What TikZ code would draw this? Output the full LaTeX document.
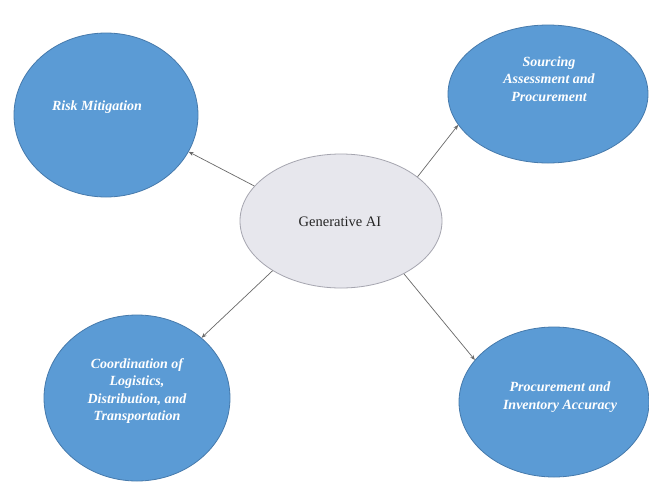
\documentclass[tikz,border=0pt]{standalone}
\usepackage{fontspec}
\setmainfont{Liberation Serif}
\usetikzlibrary{shapes.geometric,arrows.meta}
\definecolor{bluefill}{RGB}{91,155,213}
\definecolor{blueline}{RGB}{70,122,172}
\definecolor{grayfill}{RGB}{231,231,237}
\definecolor{grayline}{RGB}{165,165,175}
\definecolor{arrowgray}{RGB}{105,105,105}
\tikzset{
  x=1pt,y=1pt,
  outer/.style={ellipse,draw=blueline,fill=bluefill,line width=0.8pt,inner sep=0pt},
  hub/.style={ellipse,draw=grayline,fill=grayfill,line width=0.8pt,inner sep=0pt},
  lbl/.style={text=white,font=\fontsize{14}{17.5}\selectfont\bfseries\itshape,align=center,inner sep=0pt},
  hublbl/.style={text=black!85,font=\fontsize{14.5}{17}\selectfont,inner sep=0pt},
  conn/.style={draw=arrowgray,line width=0.7pt,-{Stealth[length=5pt,width=4pt,fill=black!80]}}
}
\begin{document}
\begin{tikzpicture}
\useasboundingbox (0,0) rectangle (649,-483);
\fill[white] (0,0) rectangle (649,-483);
\node[outer,minimum width=184,minimum height=164] (risk) at (106,-115) {};
\node[outer,minimum width=200,minimum height=138] (src) at (548,-94) {};
\node[outer,minimum width=186,minimum height=166] (coord) at (137,-398) {};
\node[outer,minimum width=190,minimum height=150] (proc) at (554,-402) {};
\node[hub,minimum width=202,minimum height=134] (c) at (341,-221) {};
\node[lbl] (risktxt) at (97,-107) {Risk Mitigation};
\node[lbl] (srctxt) at (549,-79) {Sourcing\\Assessment and\\Procurement};
\node[lbl] (coordtxt) at (137,-391) {Coordination of\\Logistics,\\Distribution, and\\Transportation};
\node[lbl] (proctxt) at (560,-397) {Procurement and\\Inventory Accuracy};
\node[hublbl] (ctxt) at (340,-222) {Generative AI};
\draw[conn] (c.158) -- (risk.-24);
\draw[conn] (c.30) -- (src.-161);
\draw[conn] (c.216) -- (coord.43);
\draw[conn] (c.-40) -- (proc.152);
\end{tikzpicture}
\end{document}
